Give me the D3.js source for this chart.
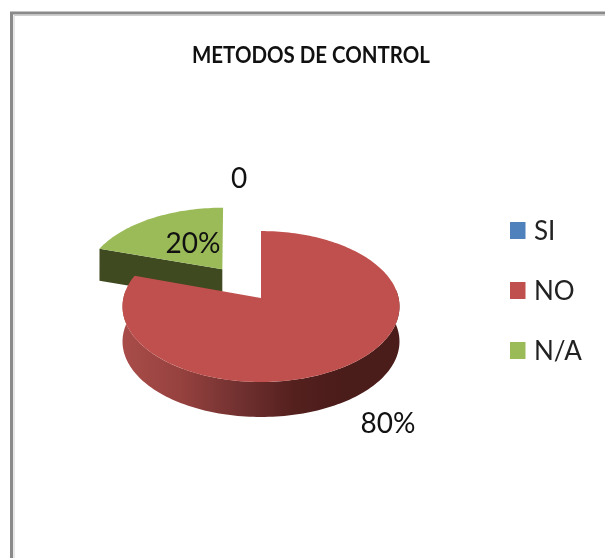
<!DOCTYPE html>
<html><head><meta charset="utf-8">
<script src="https://cdn.jsdelivr.net/npm/d3@7"></script>
<style>html,body{margin:0;padding:0;background:#fff}svg{display:block;filter:blur(.45px)}</style>
</head><body><div id="chart"></div>
<script>
const title = "METODOS DE CONTROL";
const categories = ["SI", "NO", "N/A"];
const values = [0, 80, 20];
const labels = ["0", "80%", "20%"];
const colors = ["#4f81bd", "#c0504d", "#9bbb59"];
const sideColors = ["#2a4566", "#7a3230", "#3f4a20"];
const explode = [0, 0, 0.5];

const W = 605, H = 558;
const svg = d3.select("#chart").append("svg").attr("width", W).attr("height", H);
const font = "Lato, 'Open Sans', sans-serif";

// frame
svg.append("path").attr("d", "M11.5,558V13H605").attr("fill", "none").attr("stroke", "#8a8a8a").attr("stroke-width", 3);
svg.append("path").attr("d", "M14,558V15.5H605").attr("fill", "none").attr("stroke", "#cfcfcf").attr("stroke-width", 1);

// title
svg.append("text").attr("x", 311).attr("y", 63).attr("text-anchor", "middle")
  .attr("font-family", font).attr("font-weight", 700).attr("font-size", 22)
  .attr("textLength", 238).attr("lengthAdjust", "spacingAndGlyphs").attr("fill", "#111").text(title);

// tilted-disc projection: unit disc to screen, with perspective
const cx = 261, cy = 298, p = -0.113;
const sliceDepth = [35, 35, 32];
const rimNudge = [0, 0, -3];
const xS = d3.scaleLinear().domain([-1, 1]).range([cx - 137.6, cx + 137.6]);
const yS = d3.scaleLinear().domain([-1, 1]).range([cy - 74.5, cy + 74.5]);
const proj = (u, v, d = 0) => {
  const w = 1 + p * v;
  return [xS(u / w), yS(v / w) + d];
};

const pie = d3.pie().sort(null).value(d => d);
const arcs = pie(values);
const off = (a, i) => {
  const m = (a.startAngle + a.endAngle) / 2;
  return [Math.sin(m) * explode[i], -Math.cos(m) * explode[i]];
};
const arcPts = (a, ox, oy, d = 0, nudge = 0) => {
  const n = Math.max(2, Math.round((a.endAngle - a.startAngle) * 40));
  return d3.range(n + 1).map(k => {
    const t = a.startAngle + (a.endAngle - a.startAngle) * k / n;
    const q = proj(ox + Math.sin(t), oy - Math.cos(t), d);
    return [q[0] + nudge, q[1]];
  });
};
const line = d3.line();

const defs = svg.append("defs");
const grad = defs.append("linearGradient").attr("id", "redSide")
  .attr("gradientUnits", "userSpaceOnUse").attr("x1", xS(-1)).attr("x2", xS(1)).attr("y1", 0).attr("y2", 0);
[[0, "#a84c49"], [0.2, "#97423f"], [0.42, "#713130"], [0.62, "#54201e"], [0.8, "#4a1c1a"], [1, "#4a1c1a"]]
  .forEach(([o, c]) => grad.append("stop").attr("offset", o).attr("stop-color", c));

// N/A slice first (behind), then NO
[2, 1].forEach(i => {
  const a = arcs[i];
  if (a.value === 0) return;
  const g = svg.append("g").attr("class", "slice");
  const [ox, oy] = off(a, i);
  const depth = sliceDepth[i];
  const apex = proj(ox, oy);
  const apexB = proj(ox, oy, depth);
  const top = arcPts(a, ox, oy, 0, rimNudge[i]);
  if (i === 2) {
    const c = top[0], cB = [c[0], c[1] + depth];
    g.append("path").attr("d", line([apex, c, cB, apexB]) + "Z").attr("fill", sideColors[i]);
  } else {
    // outer wall: the lower half of the rim only
    const lower = { startAngle: Math.PI / 2 - 0.11, endAngle: Math.PI * 1.5 + 0.11 };
    const rimT = arcPts(lower, ox, oy);
    const rimB = arcPts(lower, ox, oy, depth).reverse();
    g.append("path").attr("d", line(rimT.concat(rimB)) + "Z").attr("fill", "url(#redSide)");
  }
  g.append("path").attr("d", line([apex, ...top]) + "Z").attr("fill", colors[i]);
});

// data labels
const labelPos = [[239, 188], [388, 433], [193, 253]];
labels.forEach((t, i) => svg.append("text").attr("x", labelPos[i][0]).attr("y", labelPos[i][1])
  .attr("text-anchor", "middle").attr("font-family", font).attr("font-size", 28).attr("fill", "#111").text(t));

// legend
const legY = d3.scalePoint().domain(categories).range([230.5, 350.5]);
const leg = svg.append("g").selectAll("g").data(categories).join("g")
  .attr("transform", d => `translate(0,${legY(d)})`);
leg.append("rect").attr("x", 510).attr("y", -8.5).attr("width", 15.5).attr("height", 17)
  .attr("fill", (d, i) => colors[i]);
leg.append("text").attr("x", 534).attr("y", 9).attr("font-family", font).attr("font-size", 26)
  .attr("fill", "#222").text(d => d);
</script></body></html>
